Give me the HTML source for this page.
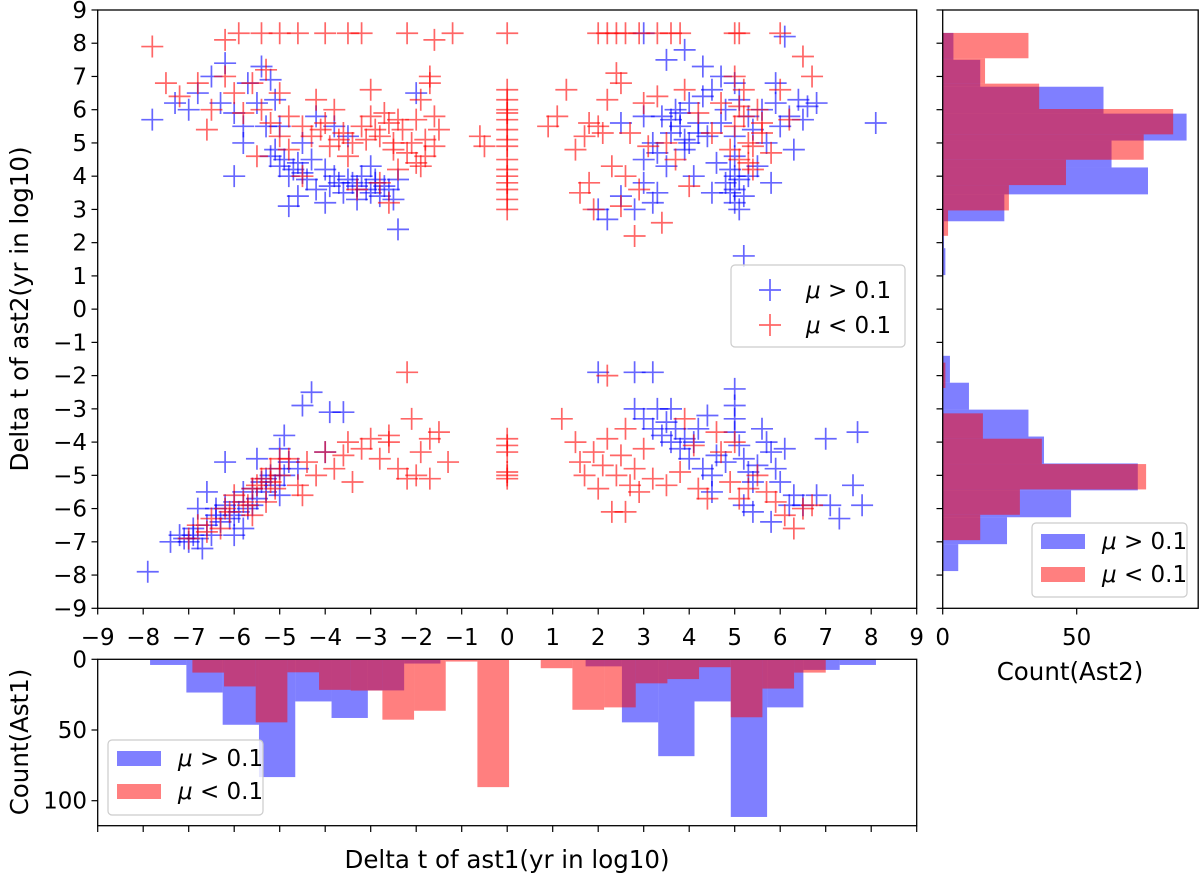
<!DOCTYPE html>
<html><head><meta charset="utf-8"><style>
html,body{margin:0;padding:0;background:#fff;}
svg{display:block;font-family:"DejaVu Sans","Liberation Sans",sans-serif;}
</style></head><body>
<svg id="chart" width="1200" height="878" viewBox="0 0 1200 878" xmlns="http://www.w3.org/2000/svg"></svg>
<script>
// ---- data ----
const blueX = [-7.8,-7.3,-7.0,-6.8,-6.5,-6.2,-6.3,-6.0,-5.8,-5.7,-5.5,-5.4,-5.2,-5.1,-5.0,-5.0,-5.1,-4.9,-4.8,-4.6,-4.5,-4.3,-4.2,-4.0,-3.8,-3.7,-3.5,-3.3,-3.2,-3.0,-2.9,-2.8,-2.6,-2.5,-2.4,-4.8,-4.6,-2.4,-6.0,-5.3,-4.5,-3.0,-3.5,-2.0,-5.8,-3.8,-4.0,-4.2,
-3.9,-3.6,-3.4,-3.1,-2.7,-4.4,-4.7,-5.2,-3.3,-2.9,
2.0,2.2,2.5,2.8,3.0,3.2,3.0,3.2,3.4,3.5,3.6,3.7,3.8,3.9,4.0,4.0,4.1,4.2,4.3,4.4,4.5,4.6,4.7,4.8,4.8,4.9,5.0,5.0,5.0,5.0,5.1,5.2,5.1,5.0,5.3,5.4,5.5,5.6,5.7,5.8,5.9,6.0,6.1,6.2,6.4,6.5,6.6,5.9,3.0,3.5,3.9,4.3,5.2,8.1,6.8,2.5,3.3,4.5,3.0,6.3,
3.6,3.9,4.2,4.7,5.0,5.1,3.3,3.8,4.9,5.3,
-7.9,-7.4,-7.2,-7.0,-6.9,-6.8,-6.6,-6.5,-6.4,-6.3,-6.2,-6.1,-6.0,-5.9,-5.8,-5.7,-5.6,-5.5,-5.4,-5.3,-5.2,-5.1,-5.0,-4.9,-4.8,-5.0,-4.9,-6.2,-6.6,-5.8,-6.8,-4.3,-4.5,-3.9,-3.6,-4.0,-4.6,-5.5,-6.0,-6.7,
-6.9,-6.4,-6.0,-5.6,-5.3,-5.0,-7.1,
2.0,2.8,3.2,2.8,3.0,3.2,3.3,3.4,3.5,3.6,3.7,3.8,3.9,4.0,4.1,4.2,4.3,4.5,4.6,4.8,5.0,5.0,5.0,5.0,5.1,5.2,5.3,5.4,5.5,5.6,5.7,5.8,5.9,6.0,6.1,6.3,6.5,6.8,7.1,7.3,7.6,7.8,7.0,7.7,5.4,5.2,4.5,5.8,6.2,3.6,4.4];
const blueY = [5.7,6.2,6.0,6.5,7.0,7.4,6.2,5.9,5.5,6.8,6.2,7.3,6.9,6.3,5.5,4.3,4.8,4.5,4.0,4.4,4.1,4.5,3.6,4.2,4.0,3.8,3.9,3.7,4.0,3.5,3.9,3.4,3.6,3.3,3.9,3.1,3.4,2.4,4.0,5.5,5.0,4.3,5.2,6.5,5.0,5.5,3.2,5.8,
3.7,3.5,3.8,3.6,3.7,3.9,4.2,4.6,3.3,3.8,
3.0,2.7,3.4,3.0,3.8,3.2,4.5,5.0,5.8,4.3,5.3,6.0,5.5,4.8,6.2,5.0,4.0,5.6,6.4,5.2,6.6,4.4,7.0,6.0,3.8,4.2,3.6,3.2,4.6,5.2,3.9,3.4,6.3,6.8,5.8,5.4,4.3,6.0,5.0,3.8,6.2,5.5,8.2,5.8,6.3,5.7,6.1,6.8,8.3,7.5,7.8,7.3,1.6,5.6,6.2,5.6,3.5,3.5,5.8,4.8,
5.7,5.1,5.3,5.6,4.0,3.0,4.7,5.9,3.5,4.0,
-7.9,-7.0,-6.8,-7.0,-6.6,-6.9,-6.5,-6.8,-6.2,-6.4,-5.9,-6.3,-5.8,-6.1,-5.5,-6.0,-5.4,-5.7,-5.2,-5.5,-5.0,-5.3,-4.8,-5.0,-4.6,-4.2,-3.8,-4.6,-5.5,-6.6,-6.0,-2.5,-2.9,-3.1,-3.1,-4.3,-4.8,-4.5,-6.8,-7.2,
-6.8,-6.0,-6.2,-5.9,-5.1,-5.6,-6.9,
-1.9,-1.9,-1.9,-3.0,-3.3,-3.6,-3.0,-3.8,-3.4,-4.0,-3.6,-4.2,-3.9,-4.5,-4.0,-3.6,-4.8,-5.0,-4.4,-4.6,-2.4,-2.9,-3.3,-3.7,-4.1,-4.5,-4.9,-5.2,-4.7,-3.6,-4.0,-4.3,-4.8,-5.2,-4.2,-5.6,-5.9,-5.6,-5.9,-6.3,-5.3,-5.9,-3.9,-3.7,-6.1,-5.9,-5.5,-6.4,-5.9,-3.0,-3.2];
const redX = [-7.8,-7.5,-7.2,-6.8,-6.5,-6.2,-6.0,-5.8,-5.6,-5.4,-5.3,-5.2,-5.0,-5.0,-4.8,-4.5,-4.3,-4.0,-3.8,-3.6,-3.4,-3.2,-3.0,-2.8,-2.6,-2.5,-2.3,-2.1,-2.0,-1.9,-1.8,-1.7,-1.6,-1.5,-2.4,-2.8,-3.3,-2.6,-3.0,-4.2,-4.8,-5.5,-6.2,-5.9,-5.4,-5.0,-4.6,-4.0,-3.5,-3.2,-2.2,-1.6,-1.2,-0.6,-0.5,-3.5,-2.0,-2.7,-4.5,-3.9,-1.7,-6.6,
-3.1,-2.9,-2.4,-2.2,-1.9,-1.6,-3.7,-4.1,-1.8,-2.5,
0,0,0,0,0,0,0,0,0,0,0,0,0,0,0,0,0,0,0,0,0,0,
0.9,1.1,1.5,1.6,1.7,1.8,2.0,2.2,2.4,2.6,2.9,3.3,3.6,3.8,5.0,5.1,6.0,2.0,2.2,2.3,2.5,2.6,2.7,2.8,2.9,3.0,3.1,3.3,3.5,3.7,3.9,4.2,4.5,4.7,4.9,5.0,5.0,5.1,5.2,5.3,5.4,5.5,5.6,5.8,6.0,6.2,6.5,6.7,2.4,1.9,2.5,3.4,4.0,1.3,
5.2,5.4,5.6,5.1,5.3,1.8,2.1,
-7.0,-6.8,-6.5,-6.2,-6.0,-5.8,-5.6,-5.4,-5.2,-5.0,-5.1,-5.3,-4.8,-4.6,-4.4,-4.2,-4.0,-3.8,-3.6,-3.4,-3.2,-3.0,-2.8,-2.6,-2.4,-2.2,-2.0,-1.9,-1.7,-1.5,-1.3,-1.7,-2.1,-2.2,-4.5,-5.6,-6.3,-3.5,-2.6,-5.0,
-6.6,-6.1,-5.7,-5.5,-5.2,
1.2,1.5,1.6,1.7,1.9,2.0,2.1,2.2,2.4,2.5,2.6,2.7,2.8,2.9,3.0,3.2,3.5,3.8,4.2,4.4,4.7,4.9,5.1,5.3,5.5,5.7,5.9,6.1,6.3,6.5,6.7,4.1,3.9,4.6,2.2,2.3,2.6,5.0];
const redY = [7.9,6.8,6.4,6.8,6.0,7.0,6.5,5.9,6.8,6.0,7.2,5.6,6.5,5.2,5.8,5.5,5.2,5.6,6.0,5.3,5.0,5.5,5.8,5.2,5.6,4.8,5.4,5.0,5.7,6.3,5.1,6.8,4.9,5.4,4.2,3.8,3.6,3.2,6.6,6.3,4.8,4.6,8.1,8.3,8.3,8.3,8.3,8.3,8.3,8.3,8.3,8.1,8.3,5.2,4.9,4.6,4.4,5.9,4.0,4.9,7.0,5.4,
5.1,5.4,5.7,4.7,4.3,5.8,5.1,5.4,4.6,5.0,
8.3,6.6,6.3,6.0,5.7,5.4,5.1,4.9,4.5,4.2,4.0,3.8,3.6,3.3,3.0,5.9,-3.9,-4.1,-4.3,-4.9,-5.0,-5.1,
5.5,5.8,4.8,3.5,5.2,3.8,8.3,8.3,8.3,8.3,8.3,8.3,8.3,8.3,8.3,8.3,8.3,5.5,6.3,4.3,6.8,4.0,5.3,2.2,3.6,6.2,4.9,6.4,5.0,4.5,6.6,5.9,5.3,6.2,4.8,5.5,7.0,4.5,6.6,5.0,4.2,6.0,5.3,4.7,6.6,5.7,7.6,7.0,7.1,3.0,3.1,2.6,3.7,6.6,
5.8,4.9,5.6,6.1,4.4,5.6,5.3,
-6.9,-6.5,-6.3,-6.0,-5.6,-5.8,-5.4,-5.1,-4.8,-5.0,-5.4,-5.8,-4.5,-5.3,-4.6,-5.0,-4.3,-4.8,-4.4,-5.2,-4.2,-3.9,-4.5,-3.8,-4.8,-5.1,-5.0,-4.3,-3.9,-3.7,-4.6,-5.1,-3.3,-1.9,-5.6,-6.2,-6.6,-4.0,-4.0,-4.5,
-6.7,-6.1,-5.9,-5.3,-5.2,
-3.3,-4.0,-4.6,-5.0,-4.3,-5.4,-4.7,-3.9,-5.0,-4.4,-3.6,-5.3,-4.8,-5.5,-4.2,-5.1,-5.3,-4.9,-5.4,-5.7,-4.3,-5.2,-5.7,-5.4,-5.0,-5.5,-5.8,-6.2,-6.6,-6.0,-5.9,-4.1,-3.3,-3.7,-2.0,-6.1,-6.1,-4.0];
// bottom histogram (Ast1): counts per bin
const ast1BlueStart = -7.849, ast1BlueWidth = 0.7977;
const ast1Blue = [4,23.5,46.3,83.3,29.8,41.5,22,3,0.5,0,0,0,5,44.6,68.5,29.8,111.5,34,7.5,4];
const ast1RedStart = -6.919, ast1RedWidth = 0.696;
const ast1Red = [9.4,19.2,44.6,9.2,21.6,22.1,42.7,36.4,1.6,90.4,0.5,6.3,35.7,34,17,14,5.6,41,20.7,9.4];
// right histogram (Ast2): counts per bin, top bin first
const ast2BlueTop = 8.31, ast2BlueWidth = 0.8095;
const ast2Blue = [4,14,60,91,63,76.6,23,0.5,1,0,0,0,2.7,9.8,32,37.8,72.8,47.9,24,5.8];
const ast2RedTop = 8.31, ast2RedWidth = 0.763;
const ast2Red = [32,15.8,36,86,75,46,24.7,2,0,0,0,0,0,1,0,15,37,75.9,28.8,14];
const mainTicks = [-9,-8,-7,-6,-5,-4,-3,-2,-1,0,1,2,3,4,5,6,7,8,9];
const ast1Ticks = [0,50,100];
const ast2Ticks = [0,50];

// ---- axes ----
const NS = "http://www.w3.org/2000/svg";
const svg = document.getElementById('chart');
const X = v => 97.7 + (v + 9) * 45.5;
const Y = v => 608.3 - (v + 9) * 33.24;
const BY = c => 659.3 + c * 1.414;
const RX = c => 942.7 + c * 2.68;
const BLUE = 'rgba(0,0,255,0.5)', RED = 'rgba(255,0,0,0.5)';
const FS = 23, FT = 24.5;

function el(tag, attrs, parent) {
  const e = document.createElementNS(NS, tag);
  for (const k in attrs) e.setAttribute(k, attrs[k]);
  (parent || svg).appendChild(e);
  return e;
}
function txt(s, x, y, anchor, size, parent, extra) {
  const t = el('text', Object.assign({x: x, y: y, 'text-anchor': anchor, 'font-size': size, fill: '#000'}, extra || {}), parent);
  t.textContent = s;
  return t;
}

// ---- main scatter ----
const gMain = el('g', {});


function plus(x, y, color, name) {
  const p = el('path', {d: `M${x-11},${y}h22M${x},${y-11}v22`, stroke: color, 'stroke-width': 1.7, fill: 'none'}, gMain);
  
  
}
for (let i = 0; i < blueX.length; i++) plus(X(blueX[i]), Y(blueY[i]), 'rgba(0,0,255,0.6)', 'blue-point');
for (let i = 0; i < redX.length; i++) plus(X(redX[i]), Y(redY[i]), 'rgba(255,0,0,0.6)', 'red-point');

const frame = el('rect', {x: 97.7, y: 10, width: 819, height: 598.3, fill: 'none', stroke: '#000', 'stroke-width': 1.3});


for (const t of mainTicks) {
  const tx = el('line', {x1: X(t), x2: X(t), y1: 608.3, y2: 614.5, stroke: '#000', 'stroke-width': 1.2});
  
  
  const lx = txt(String(t).replace('-', '\u2212'), X(t), 645, 'middle', FS);
  
  
  const ty = el('line', {x1: 91.5, x2: 97.7, y1: Y(t), y2: Y(t), stroke: '#000', 'stroke-width': 1.2});
  
  
  const ly = txt(String(t).replace('-', '\u2212'), 87, Y(t) + 8, 'end', FS);
  
  
}
const yTitle = txt('Delta t of ast2(yr in log10)', 0, 0, 'middle', FT, svg, {transform: 'translate(28,309) rotate(-90)'});



// main legend
const lg = el('g', {});


el('rect', {x: 731, y: 265, width: 174, height: 82, rx: 4, fill: 'rgba(255,255,255,0.8)', stroke: '#ccc', 'stroke-width': 1.2}, lg);
[['rgba(0,0,255,0.6)', '\u03bc', ' > 0.1', 290], ['rgba(255,0,0,0.6)', '\u03bc', ' < 0.1', 325]].forEach(([c, mu, s, y]) => {
  const m = el('path', {d: `M${759},${y}h22M${770},${y-11}v22`, stroke: c, 'stroke-width': 1.7}, lg);
  
  
  const t = el('text', {x: 806, y: y + 8, 'font-size': FS}, lg);
  
  
  const ts = el('tspan', {'font-style': 'italic'}, t); ts.textContent = mu;
  const ts2 = el('tspan', {}, t); ts2.textContent = s;
});

// ---- bottom histogram ----
const gB = el('g', {});


ast1Blue.forEach((c, i) => {
  if (c <= 0) return;
  const x0 = X(ast1BlueStart + i * ast1BlueWidth), x1 = X(ast1BlueStart + (i + 1) * ast1BlueWidth);
  const r = el('rect', {x: x0, y: 659.3, width: x1 - x0, height: BY(c) - 659.3, fill: BLUE}, gB);
  
  
});
ast1Red.forEach((c, i) => {
  if (c <= 0) return;
  const x0 = X(ast1RedStart + i * ast1RedWidth), x1 = X(ast1RedStart + (i + 1) * ast1RedWidth);
  const r = el('rect', {x: x0, y: 659.3, width: x1 - x0, height: BY(c) - 659.3, fill: RED}, gB);
  
  
});
const bf = el('rect', {x: 97.7, y: 659.3, width: 819, height: 166.4, fill: 'none', stroke: '#000', 'stroke-width': 1.3});


for (const t of mainTicks) {
  const tk = el('line', {x1: X(t), x2: X(t), y1: 825.7, y2: 832, stroke: '#000', 'stroke-width': 1.2});
  
  
}
for (const t of ast1Ticks) {
  const tk = el('line', {x1: 91.5, x2: 97.7, y1: BY(t), y2: BY(t), stroke: '#000', 'stroke-width': 1.2});
  
  
  const l = txt(String(t), 87, BY(t) + 8, 'end', FS);
  
  
}
const bxT = txt('Delta t of ast1(yr in log10)', 507, 868, 'middle', FT);


const byT = txt('Count(Ast1)', 0, 0, 'middle', FT, svg, {transform: 'translate(28,742) rotate(-90)'});



// ---- right histogram ----
const gR = el('g', {});


ast2Blue.forEach((c, i) => {
  if (c <= 0) return;
  const y0 = Y(ast2BlueTop - i * ast2BlueWidth), y1 = Y(ast2BlueTop - (i + 1) * ast2BlueWidth);
  const r = el('rect', {x: 942.7, y: y0, width: RX(c) - 942.7, height: y1 - y0, fill: BLUE}, gR);
  
  
});
ast2Red.forEach((c, i) => {
  if (c <= 0) return;
  const y0 = Y(ast2RedTop - i * ast2RedWidth), y1 = Y(ast2RedTop - (i + 1) * ast2RedWidth);
  const r = el('rect', {x: 942.7, y: y0, width: RX(c) - 942.7, height: y1 - y0, fill: RED}, gR);
  
  
});
const rf = el('rect', {x: 942.7, y: 10, width: 255.5, height: 598.3, fill: 'none', stroke: '#000', 'stroke-width': 1.3});


for (const t of mainTicks) {
  const tk = el('line', {x1: 936.5, x2: 942.7, y1: Y(t), y2: Y(t), stroke: '#000', 'stroke-width': 1.2});
  
  
}
for (const t of ast2Ticks) {
  const tk = el('line', {x1: RX(t), x2: RX(t), y1: 608.3, y2: 614.5, stroke: '#000', 'stroke-width': 1.2});
  
  
  const l = txt(String(t), RX(t), 645, 'middle', FS);
  
  
}
const rxT = txt('Count(Ast2)', 1070, 680, 'middle', FT);



// histogram legends
function patchLegend(x, y, w, h, name) {
  const g = el('g', {});
  
  
  el('rect', {x: x, y: y, width: w, height: h, rx: 4, fill: 'rgba(255,255,255,0.8)', stroke: '#ccc', 'stroke-width': 1.2}, g);
  [[BLUE, ' > 0.1', 0], [RED, ' < 0.1', 1]].forEach(([c, s, k]) => {
    const py = y + 11 + k * 33;
    const p = el('rect', {x: x + 9, y: py, width: 44, height: 15, fill: c}, g);
    
    
    const t = el('text', {x: x + 70, y: py + 15, 'font-size': FS}, g);
    
    
    const a = el('tspan', {'font-style': 'italic'}, t); a.textContent = '\u03bc';
    const b = el('tspan', {}, t); b.textContent = s;
  });
}
patchLegend(1032, 523, 155, 74, 'ast2-legend');
patchLegend(108, 740, 155, 75, 'ast1-legend');
</script>
</body></html>
